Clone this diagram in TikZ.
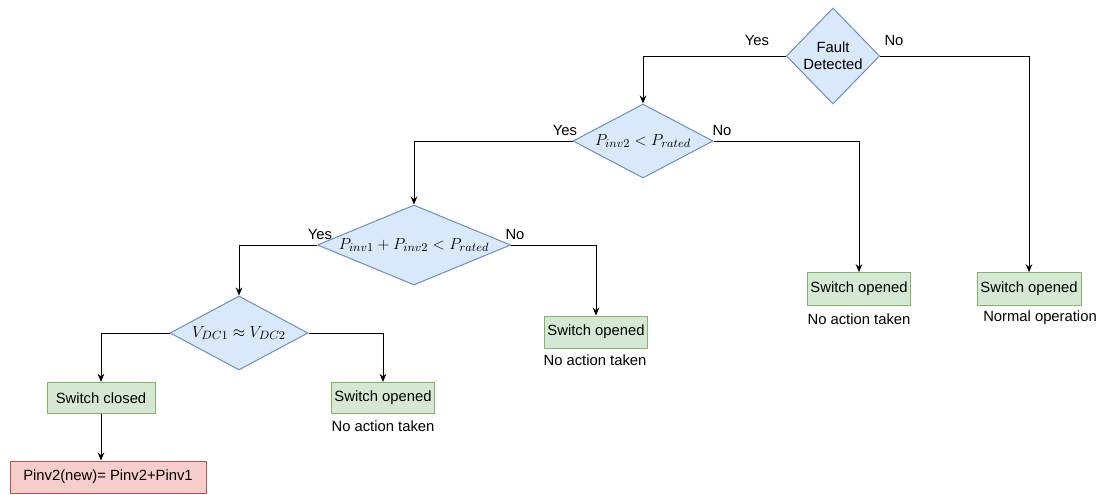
\documentclass[tikz,border=0pt]{standalone}
\usepackage{fontspec}
\setmainfont{Liberation Sans}
\usepackage{tikz}
\usetikzlibrary{shapes.geometric}
\usetikzlibrary {arrows.meta}
\definecolor{diafill}{HTML}{DAE8FC}
\definecolor{diadraw}{HTML}{6C8EBF}
\definecolor{okfill}{HTML}{D5E8D4}
\definecolor{okdraw}{HTML}{82B366}
\definecolor{newfill}{HTML}{F8CECC}
\definecolor{newdraw}{HTML}{B85450}
\tikzset{frage/.style = {
shape=diamond, fill=diafill, draw=diadraw, line width=0.75pt, inner sep=0pt,
font=\fontsize{12.5}{15}\selectfont, align=center
}}
\tikzset{schalter/.style = {
rectangle, fill=okfill, draw=okdraw, line width=0.75pt, inner sep=0pt,
minimum height=23.5pt, font=\fontsize{11.1}{13}\selectfont
}}
\tikzset{ergebnis/.style = {schalter, fill=newfill, draw=newdraw}}
\tikzset{notiz/.style = {inner sep=0pt, font=\fontsize{11.1}{13}\selectfont}}
\tikzset{pfeil/.style = {-{Stealth[length=6pt,width=5pt]}, black, line width=0.75pt}}

\begin{document}
\begin{tikzpicture}[x=0.75pt,y=-0.75pt]
\useasboundingbox (0,0) rectangle (1102,494);

\node[frage,aspect=1,minimum width=70pt,minimum height=72pt,font=\fontsize{11.1}{13}\selectfont] (fault) at (833,56)
  {Fault\\Detected};
\node[frage,aspect=1.9,minimum width=105pt,minimum height=55.5pt] (inv2) at (643,141)
  {$P_{inv2} < P_{rated}$};
\node[frage,aspect=2.4,minimum width=145pt,minimum height=60pt] (summe) at (414,245)
  {$P_{inv1} + P_{inv2} < P_{rated}$};
\node[frage,aspect=1.86,minimum width=103.5pt,minimum height=55.5pt] (vdc) at (239,333)
  {$V_{DC1} \approx V_{DC2}$};

\node[schalter,minimum width=81pt] (zu) at (101,398) {Switch closed};
\node[ergebnis,minimum width=147pt,minimum height=24pt] (neu) at (108,477) {Pinv2(new)= Pinv2+Pinv1};
\node[schalter,minimum width=77pt] (aufA) at (383,398) {Switch opened};
\node[schalter,minimum width=77pt,minimum height=24pt] (aufB) at (596,332) {Switch opened};
\node[schalter,minimum width=77pt,minimum height=24.5pt] (aufC) at (859,289) {Switch opened};
\node[schalter,minimum width=78pt,minimum height=24.5pt] (aufD) at (1029,289) {Switch opened};

\node[notiz] (txtA) at (383,426) {No action taken};
\node[notiz] (txtB) at (595,360) {No action taken};
\node[notiz] (txtC) at (859,319) {No action taken};
\node[notiz] (txtD) at (1040,318) {Normal operation};

\node[notiz] (ja1) at (757,40) {Yes};
\node[notiz] (nein1) at (894,40) {No};
\node[notiz] (ja2) at (565,130) {Yes};
\node[notiz] (nein2) at (722,130) {No};
\node[notiz] (ja3) at (320,234) {Yes};
\node[notiz] (nein3) at (515,234) {No};

\draw [pfeil] (fault.west) -| (inv2.north);
\draw [pfeil] (fault.east) -| (aufD.north);
\draw [pfeil] (inv2.west) -| (summe.north);
\draw [pfeil] (inv2.east) -| (aufC.north);
\draw [pfeil] (summe.west) -| (vdc.north);
\draw [pfeil] (summe.east) -| (aufB.north);
\draw [pfeil] (vdc.west) -| (zu.north);
\draw [pfeil] (vdc.east) -| (aufA.north);
\draw [pfeil] (zu.south) -- (zu.south |- neu.north);

\end{tikzpicture}
\end{document}
